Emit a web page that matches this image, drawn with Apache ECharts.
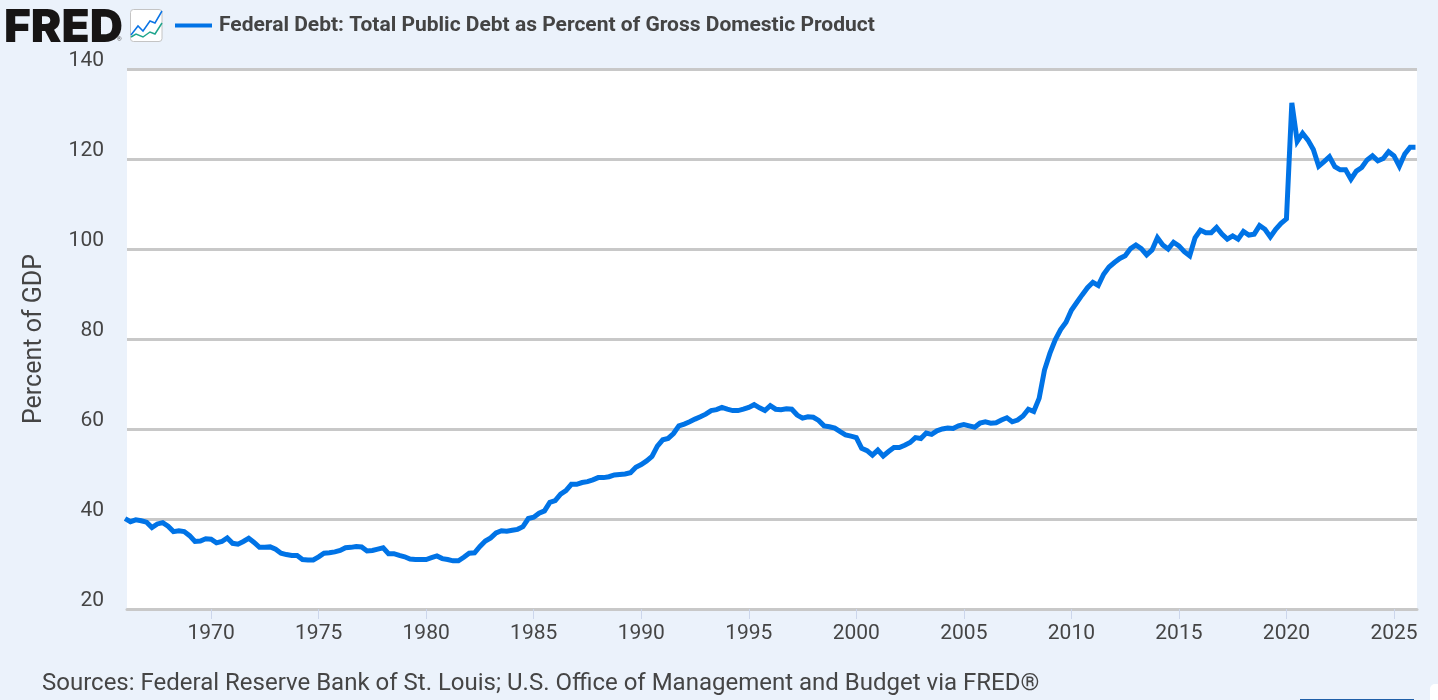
<!DOCTYPE html>
<html>
<head>
<meta charset="utf-8">
<style>html,body{margin:0;padding:0;background:#ebf2fb;}#c{width:1438px;height:700px;}</style>
<script src="https://cdn.jsdelivr.net/npm/echarts@6/dist/echarts.min.js"></script>
</head>
<body>
<div id="c"></div>
<script>
const seriesName = 'Federal Debt: Total Public Debt as Percent of Gross Domestic Product';
const sourceNote = 'Sources: Federal Reserve Bank of St. Louis; U.S. Office of Management and Budget via FRED®';
const yAxisTitle = 'Percent of GDP';
const firstYear = 1966;
const xTickYears = [1970,1975,1980,1985,1990,1995,2000,2005,2010,2015,2020,2025];
// quarterly values, 1966 Q1 onward
const debt1966to1979 = [
  40.1,39.4,39.8,39.6, 39.3,38.1,38.9,39.2, 38.4,37.2,37.4,37.2, 36.3,35.0,35.1,35.6,
  35.5,34.7,35.0,35.8, 34.6,34.4,35.0,35.7, 34.8,33.7,33.7,33.8, 33.3,32.4,32.1,31.9,
  31.9,31.0,30.9,30.9, 31.6,32.4,32.5,32.7, 33.0,33.6,33.7,33.9, 33.8,32.9,33.0,33.3,
  33.6,32.3,32.3,31.9, 31.6,31.1,31.0,31.0];
const debt1980to1994 = [
  31.0,31.4,31.8,31.2, 31.0,30.7,30.7,31.5, 32.4,32.5,33.9,35.1, 35.8,36.9,37.4,37.3,
  37.5,37.7,38.3,40.1, 40.4,41.3,41.8,43.7, 44.1,45.5,46.3,47.7, 47.7,48.1,48.3,48.7,
  49.2,49.2,49.4,49.8, 49.9,50.0,50.3,51.5, 52.1,52.9,53.9,56.2, 57.6,57.9,59.0,60.7,
  61.1,61.6,62.2,62.7, 63.3,64.1,64.3,64.8, 64.4,64.1,64.1,64.4];
const debt1995to2009 = [
  64.8,65.4,64.7,64.1, 65.2,64.4,64.3,64.5, 64.4,63.1,62.4,62.7, 62.6,61.9,60.7,60.5,
  60.2,59.4,58.7,58.4, 58.1,55.7,55.2,54.2, 55.3,54.0,55.0,55.9, 55.9,56.4,57.0,58.1,
  57.9,59.1,58.8,59.6, 60.0,60.2,60.1,60.7, 61.0,60.7,60.4,61.3, 61.6,61.3,61.4,62.0,
  62.5,61.6,62.0,62.9, 64.4,63.9,66.8,73.1, 76.8,79.8,82.1,83.7];
const debt2010to2026 = [
  86.4,88.1,89.8,91.4, 92.6,91.9,94.4,96.0, 97.0,97.9,98.5,100.1, 100.9,100.1,98.7,99.8,
  102.5,100.9,100.0,101.5, 100.7,99.4,98.5,102.5, 104.2,103.6,103.6,104.8, 103.3,102.2,102.9,102.2,
  103.9,103.1,103.3,105.2, 104.4,102.7,104.4,105.7, 106.7,132.5,123.9,125.7, 124.2,122.1,118.4,119.4,
  120.5,118.3,117.6,117.6, 115.5,117.3,118.1,119.8, 120.7,119.6,120.1,121.6, 120.7,118.4,121.1,122.6, 122.6];
const debtValues = [...debt1966to1979, ...debt1980to1994, ...debt1995to2009, ...debt2010to2026];
const quarterTimes = debtValues.map((_, i) => firstYear + i / 4);
const points = debtValues.map((v, i) => [quarterTimes[i], v]);

const chart = echarts.init(document.getElementById('c'), null, {renderer:'canvas'});
const F = 'Roboto, sans-serif';
chart.setOption({
  animation:false,
  backgroundColor:'#ebf2fb',
  textStyle:{fontFamily:F},
  title:{text:sourceNote,left:42,top:672,padding:0,textStyle:{fontFamily:F,fontSize:24,fontWeight:'normal',color:'#454545'}},
  legend:{left:175,top:15,padding:[0,0,0,0],itemWidth:37,itemHeight:4,itemGap:9,icon:'rect',
    data:[{name:seriesName}],
    selectedMode:false,
    textStyle:{fontFamily:F,fontSize:21,fontWeight:'bold',color:'#444444',padding:[0,0,6,2]}},
  grid:{left:127,right:21,top:69,bottom:91,show:true,backgroundColor:'#ffffff',borderWidth:0,containLabel:false},
  xAxis:{type:'value',min:1966.09,max:2026.07,
    splitLine:{show:false},
    axisLine:{show:true,onZero:false,lineStyle:{color:'#c8c8c8',width:3}},
    axisTick:{show:true,length:10,lineStyle:{color:'#ccd6eb',width:1},customValues:xTickYears},
    axisLabel:{customValues:xTickYears,formatter:v=>String(Math.round(v)),margin:14,fontFamily:F,fontSize:21,color:'#454545',showMinLabel:true,showMaxLabel:true}},
  yAxis:{type:'value',min:20,max:140,interval:20,
    name:yAxisTitle,nameLocation:'middle',nameGap:80,nameRotate:90,
    nameTextStyle:{fontFamily:F,fontSize:25,color:'#454545'},
    axisLine:{show:false},axisTick:{show:false},
    axisLabel:{margin:23,fontFamily:F,fontSize:21,color:'#454545',verticalAlign:'bottom',lineHeight:16,padding:[0,0,0,0]},
    splitLine:{show:true,lineStyle:{color:'#c8c8c8',width:3}}},
  series:[{name:seriesName,type:'line',data:points,showSymbol:false,symbol:'none',smooth:false,
    clip:true,lineStyle:{color:'#0073e6',width:5,join:'miter'},itemStyle:{color:'#0073e6'},z:5}],
  graphic:[
    {type:'text',left:4,top:5,style:{text:'FRED',font:'900 46px Inter, Roboto, sans-serif',fill:'#171515'}},
    {type:'text',left:117,top:36,style:{text:'®',font:'6px Roboto, sans-serif',fill:'#555555'}},
    {type:'rect',shape:{x:130.5,y:9.5,width:31.5,height:32,r:3},style:{fill:'#ffffff',stroke:'#c4c4c4',lineWidth:1}},
    {type:'polyline',shape:{points:[[131,35],[138,26],[143,31],[150,21],[155,23],[162,11]]},style:{fill:'none',stroke:'#0b74e5',lineWidth:1.5}},
    {type:'polyline',shape:{points:[[131,37],[136,34],[143,37],[150,32],[155,34],[162,23]]},style:{fill:'none',stroke:'#1fa58d',lineWidth:1.5}},
    {type:'rect',shape:{x:1300,y:699,width:114,height:1},style:{fill:'#1f5fa8'}},
    {type:'rect',shape:{x:1430,y:684,width:12,height:20,r:5},style:{fill:'#ffffff'}}
  ]
});
</script>
</body>
</html>
